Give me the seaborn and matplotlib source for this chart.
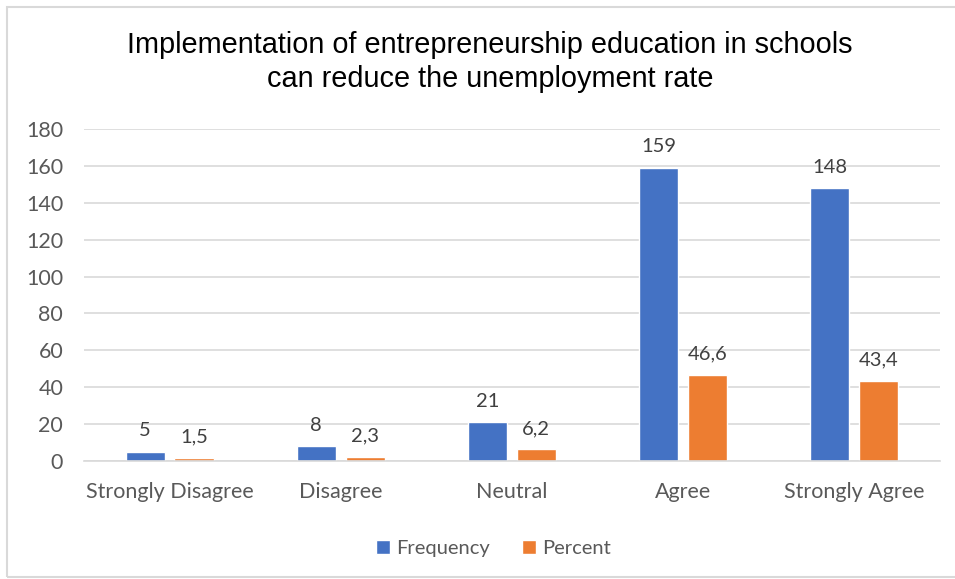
import matplotlib
matplotlib.use("Agg")
import matplotlib.pyplot as plt
import seaborn as sns
import pandas as pd
from matplotlib.patches import Rectangle

categories = ["Strongly Disagree", "Disagree", "Neutral", "Agree", "Strongly Agree"]
frequency = [5, 8, 21, 159, 148]
percent = [1.5, 2.3, 6.2, 46.6, 43.4]
series_names = ["Frequency", "Percent"]
title = "Implementation of entrepreneurship education in schools\ncan reduce the unemployment rate"

df = pd.DataFrame({
    "category": categories * 2,
    "series": [series_names[0]] * len(categories) + [series_names[1]] * len(categories),
    "value": frequency + percent,
})

sns.set_theme(style="white")
plt.rcParams['font.family'] = ['Lato', 'DejaVu Sans']

fig = plt.figure(figsize=(9.55, 5.79), dpi=100)
ax = fig.add_axes([0.088, 0.204, 0.896, 0.573])

colors = ["#4472C4", "#ED7D31"]
sns.barplot(data=df, x="category", y="value", hue="series", palette=colors,
            saturation=1, width=0.57, gap=0.2, ax=ax, legend=True)

ax.set_ylim(0, 180)
ax.set_yticks(range(0, 181, 20))
ax.yaxis.grid(True, color="#D9D9D9", linewidth=1.2)
ax.set_axisbelow(True)
for s in ["top", "right", "left"]:
    ax.spines[s].set_visible(False)
ax.spines["bottom"].set_color("#D9D9D9")
ax.spines["bottom"].set_linewidth(1.2)
ax.set_xlabel("")
ax.set_ylabel("")
ax.tick_params(axis="both", length=0, colors="#595959", labelsize=15.5)
ax.tick_params(axis="x", pad=15)
ax.tick_params(axis="y", pad=15)
for lbl in ax.get_yticklabels():
    lbl.set_horizontalalignment("right")

for cont in ax.containers:
    labels = [f"{v:g}".replace(".", ",") for v in cont.datavalues]
    ax.bar_label(cont, labels=labels, padding=9, color="#404040", fontsize=14.5)

leg = ax.legend(loc="upper center", bbox_to_anchor=(0.478, -0.185), ncol=2, frameon=False,
                fontsize=14.5, handlelength=0.7, handleheight=0.7, handletextpad=0.3,
                columnspacing=1.6)
for t in leg.get_texts():
    t.set_color("#595959")

fig.text(0.513, 0.893, title, ha="center", va="center", fontsize=20.8,
         family=["Liberation Sans", "DejaVu Sans"], color="#000000", linespacing=1.3)

fig.patches.append(Rectangle((7 / 955, 0.003), 1.0, 1 - 7 / 579 - 0.003, transform=fig.transFigure,
                             fill=False, edgecolor="#D9D9D9", linewidth=1.5))

fig.savefig("out.png", dpi=100)
